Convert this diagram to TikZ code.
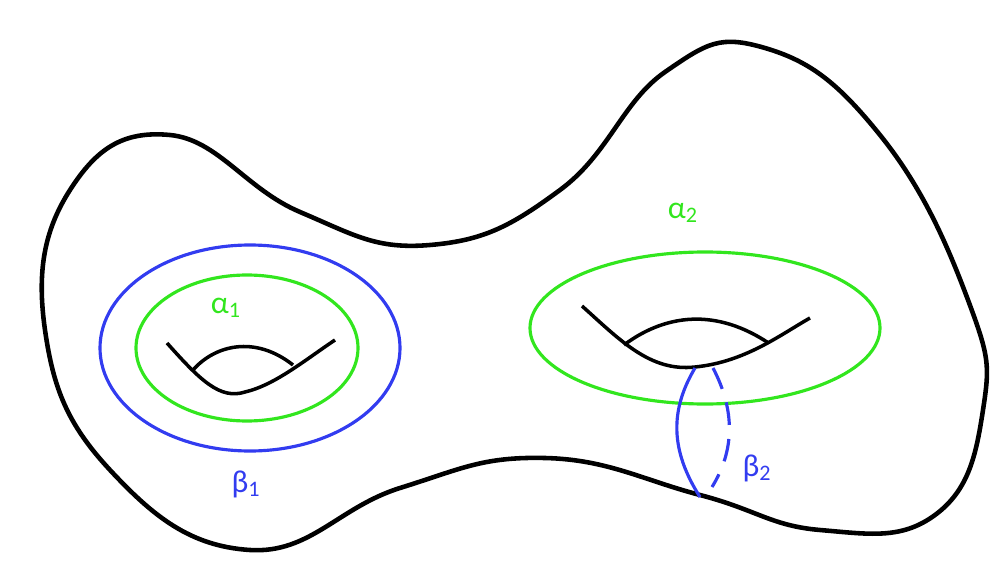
\documentclass[tikz,border=0pt]{standalone}
\usepackage{fontspec}
\setmainfont{Carlito}
\begin{document}
\begin{tikzpicture}[x=0.02cm,y=-0.02cm,
  surf/.style={line width=2.6pt},
  hole/.style={line width=2pt},
  acurve/.style={line width=1.8pt, draw={rgb,255:red,50;green,230;blue,30}},
  bcurve/.style={line width=1.8pt, draw={rgb,255:red,50;green,60;blue,240}},
  lab/.style={font=\fontsize{18}{20}\selectfont}]
\useasboundingbox (0,0) rectangle (1005,571);
% surface
\draw[surf] plot[smooth cycle, tension=0.75] coordinates {(170,135) (300,212) (430,245) (560,190) (665,72) (765,48) (880,135) (968,300) (983,410) (935,515) (820,530) (700,495) (545,458) (400,488) (250,550) (110,470) (45,330) (70,190)};
% left handle
\draw[bcurve] (250,348) ellipse [x radius=150, y radius=103];
\draw[acurve] (247,348) ellipse [x radius=111, y radius=73];
\draw[hole] (167,343) .. controls (200,380) and (220,400) .. (245,392) .. controls (275,385) and (305,360) .. (335,340);
\draw[hole] (193,370) .. controls (215,345) and (255,335) .. (293,365);
\node[lab, text={rgb,255:red,50;green,230;blue,30}] (a1) at (226,308) {α\textsubscript{1}};
\node[lab, text={rgb,255:red,50;green,60;blue,240}] (b1) at (246,484) {β\textsubscript{1}};
% right handle
\draw[acurve] (705,328) ellipse [x radius=175, y radius=76];
\draw[hole] (582,306) .. controls (620,340) and (650,372) .. (695,367) .. controls (745,362) and (780,335) .. (810,318);
\draw[hole] (624,345) .. controls (660,318) and (710,305) .. (767,342);
\draw[bcurve] (695,368) .. controls (670,410) and (670,450) .. (700,497);
\draw[bcurve, dash pattern=on 13pt off 8pt] (713,368) .. controls (735,410) and (735,450) .. (712,487);
\node[lab, text={rgb,255:red,50;green,230;blue,30}] (a2) at (683,213) {α\textsubscript{2}};
\node[lab, text={rgb,255:red,50;green,60;blue,240}] (b2) at (757,468) {β\textsubscript{2}};
\end{tikzpicture}
\end{document}
